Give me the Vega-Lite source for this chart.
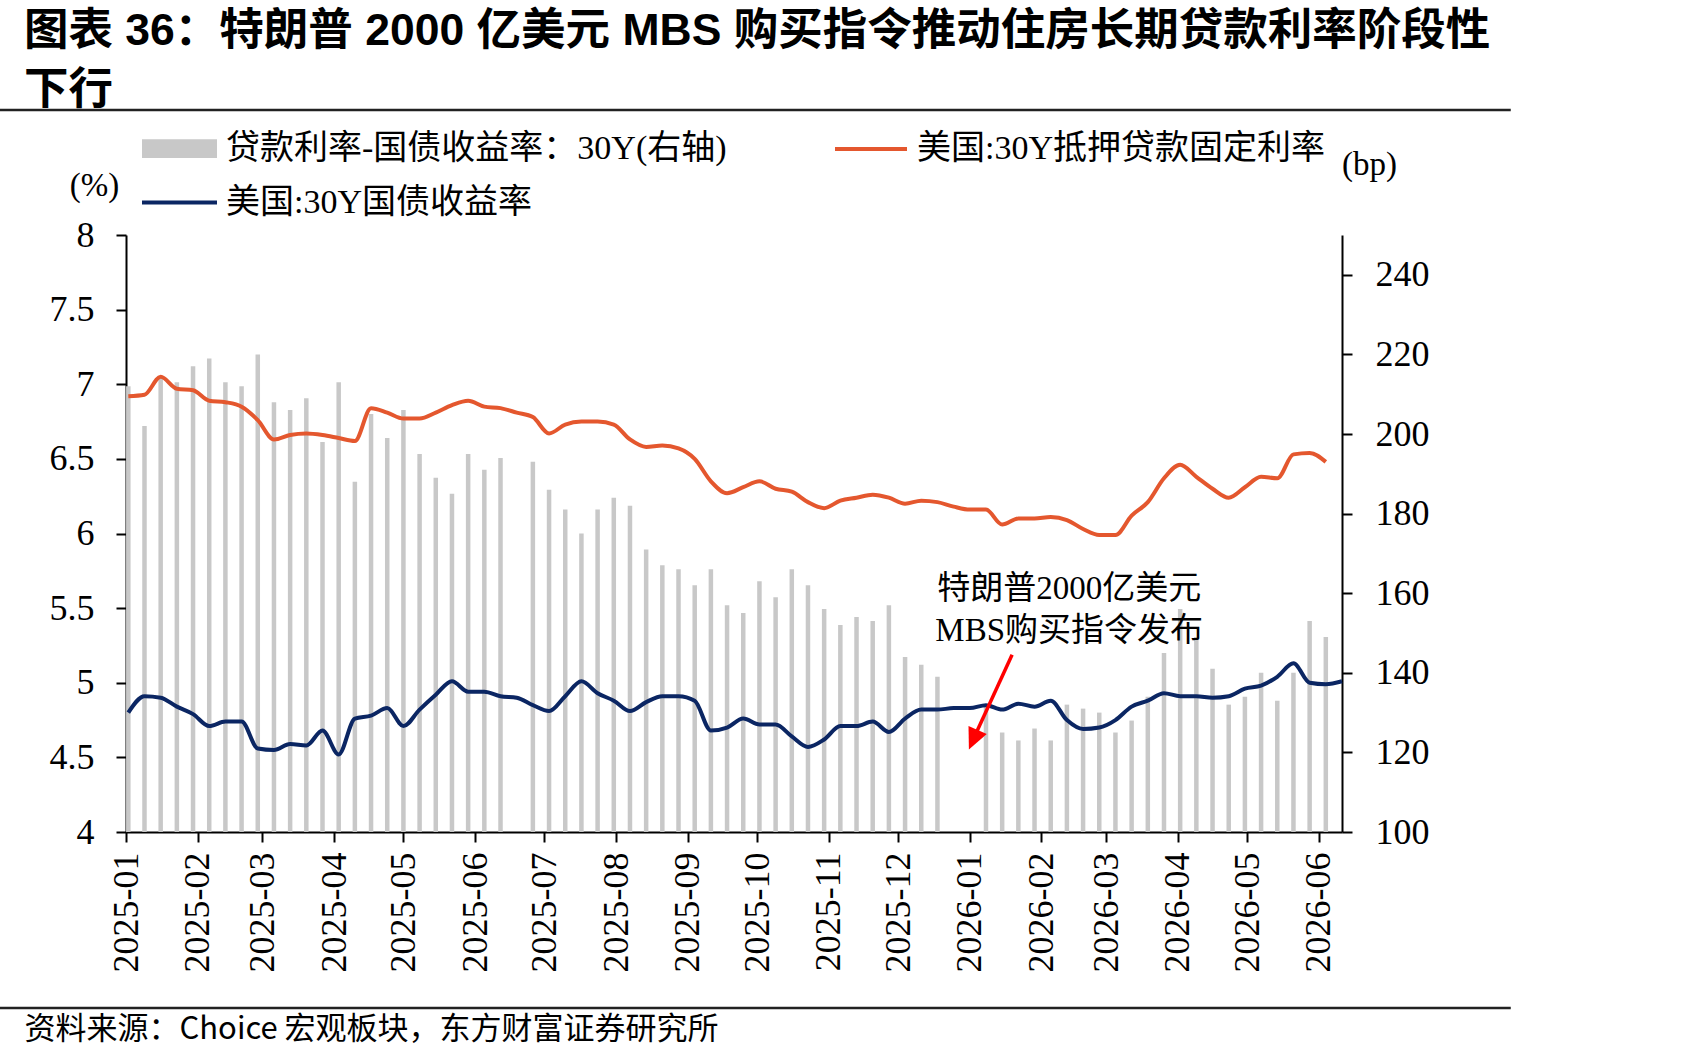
{
  "$schema": "https://vega.github.io/schema/vega-lite/v6.json",
  "width": 1216,
  "height": 597,
  "autosize": {"type": "none"},
  "padding": {"left": 126, "top": 235, "right": 359, "bottom": 229},
  "background": "white",
  "title": {
    "text": ["图表 36：特朗普 2000 亿美元 MBS 购买指令推动住房长期贷款利率阶段性", "下行"],
    "anchor": "start",
    "frame": "group",
    "dx": -102,
    "dy": 5,
    "offset": 0,
    "font": "Liberation Sans, Noto Sans CJK SC",
    "fontSize": 44.5,
    "fontWeight": "bold",
    "lineHeight": 59,
    "color": "#000000"
  },
  "datasets": {
    "weekly": [
      {"date": "2025-01-02", "mortgage": 6.92, "ust": 4.80, "spread": 212},
      {"date": "2025-01-09", "mortgage": 6.93, "ust": 4.91, "spread": 202},
      {"date": "2025-01-16", "mortgage": 7.05, "ust": 4.90, "spread": 214},
      {"date": "2025-01-23", "mortgage": 6.97, "ust": 4.84, "spread": 213},
      {"date": "2025-01-30", "mortgage": 6.96, "ust": 4.79, "spread": 217},
      {"date": "2025-02-06", "mortgage": 6.89, "ust": 4.71, "spread": 219},
      {"date": "2025-02-13", "mortgage": 6.88, "ust": 4.74, "spread": 213},
      {"date": "2025-02-20", "mortgage": 6.85, "ust": 4.74, "spread": 212},
      {"date": "2025-02-27", "mortgage": 6.76, "ust": 4.56, "spread": 220},
      {"date": "2025-03-06", "mortgage": 6.63, "ust": 4.55, "spread": 208},
      {"date": "2025-03-13", "mortgage": 6.66, "ust": 4.59, "spread": 206},
      {"date": "2025-03-20", "mortgage": 6.67, "ust": 4.58, "spread": 209},
      {"date": "2025-03-27", "mortgage": 6.66, "ust": 4.68, "spread": 198},
      {"date": "2025-04-03", "mortgage": 6.64, "ust": 4.52, "spread": 213},
      {"date": "2025-04-10", "mortgage": 6.62, "ust": 4.76, "spread": 188},
      {"date": "2025-04-17", "mortgage": 6.84, "ust": 4.78, "spread": 205},
      {"date": "2025-04-24", "mortgage": 6.81, "ust": 4.83, "spread": 199},
      {"date": "2025-05-01", "mortgage": 6.77, "ust": 4.71, "spread": 206},
      {"date": "2025-05-08", "mortgage": 6.77, "ust": 4.82, "spread": 195},
      {"date": "2025-05-15", "mortgage": 6.81, "ust": 4.92, "spread": 189},
      {"date": "2025-05-22", "mortgage": 6.86, "ust": 5.01, "spread": 185},
      {"date": "2025-05-29", "mortgage": 6.89, "ust": 4.94, "spread": 195},
      {"date": "2025-06-05", "mortgage": 6.85, "ust": 4.94, "spread": 191},
      {"date": "2025-06-12", "mortgage": 6.84, "ust": 4.91, "spread": 194},
      {"date": "2025-06-19", "mortgage": 6.81, "ust": 4.90, "spread": null},
      {"date": "2025-06-26", "mortgage": 6.78, "ust": 4.85, "spread": 193},
      {"date": "2025-07-03", "mortgage": 6.67, "ust": 4.81, "spread": 186},
      {"date": "2025-07-10", "mortgage": 6.73, "ust": 4.91, "spread": 181},
      {"date": "2025-07-17", "mortgage": 6.75, "ust": 5.01, "spread": 175},
      {"date": "2025-07-24", "mortgage": 6.75, "ust": 4.93, "spread": 181},
      {"date": "2025-07-31", "mortgage": 6.73, "ust": 4.88, "spread": 184},
      {"date": "2025-08-07", "mortgage": 6.63, "ust": 4.81, "spread": 182},
      {"date": "2025-08-14", "mortgage": 6.58, "ust": 4.87, "spread": 171},
      {"date": "2025-08-21", "mortgage": 6.59, "ust": 4.91, "spread": 167},
      {"date": "2025-08-28", "mortgage": 6.57, "ust": 4.91, "spread": 166},
      {"date": "2025-09-04", "mortgage": 6.50, "ust": 4.88, "spread": 162},
      {"date": "2025-09-11", "mortgage": 6.35, "ust": 4.68, "spread": 166},
      {"date": "2025-09-18", "mortgage": 6.27, "ust": 4.70, "spread": 157},
      {"date": "2025-09-25", "mortgage": 6.31, "ust": 4.76, "spread": 155},
      {"date": "2025-10-02", "mortgage": 6.35, "ust": 4.72, "spread": 163},
      {"date": "2025-10-09", "mortgage": 6.30, "ust": 4.72, "spread": 159},
      {"date": "2025-10-16", "mortgage": 6.28, "ust": 4.64, "spread": 166},
      {"date": "2025-10-23", "mortgage": 6.21, "ust": 4.57, "spread": 162},
      {"date": "2025-10-30", "mortgage": 6.17, "ust": 4.62, "spread": 156},
      {"date": "2025-11-06", "mortgage": 6.22, "ust": 4.71, "spread": 152},
      {"date": "2025-11-13", "mortgage": 6.24, "ust": 4.71, "spread": 154},
      {"date": "2025-11-20", "mortgage": 6.26, "ust": 4.74, "spread": 153},
      {"date": "2025-11-27", "mortgage": 6.24, "ust": 4.67, "spread": 157},
      {"date": "2025-12-04", "mortgage": 6.20, "ust": 4.76, "spread": 144},
      {"date": "2025-12-11", "mortgage": 6.22, "ust": 4.82, "spread": 142},
      {"date": "2025-12-18", "mortgage": 6.21, "ust": 4.82, "spread": 139},
      {"date": "2025-12-25", "mortgage": 6.18, "ust": 4.83, "spread": null},
      {"date": "2026-01-01", "mortgage": 6.16, "ust": 4.83, "spread": null},
      {"date": "2026-01-08", "mortgage": 6.16, "ust": 4.85, "spread": 132},
      {"date": "2026-01-15", "mortgage": 6.06, "ust": 4.82, "spread": 125},
      {"date": "2026-01-22", "mortgage": 6.10, "ust": 4.86, "spread": 123},
      {"date": "2026-01-29", "mortgage": 6.10, "ust": 4.84, "spread": 126},
      {"date": "2026-02-05", "mortgage": 6.11, "ust": 4.88, "spread": 123},
      {"date": "2026-02-12", "mortgage": 6.09, "ust": 4.75, "spread": 132},
      {"date": "2026-02-19", "mortgage": 6.03, "ust": 4.69, "spread": 131},
      {"date": "2026-02-26", "mortgage": 5.99, "ust": 4.70, "spread": 130},
      {"date": "2026-03-05", "mortgage": 5.99, "ust": 4.75, "spread": 125},
      {"date": "2026-03-12", "mortgage": 6.12, "ust": 4.84, "spread": 128},
      {"date": "2026-03-19", "mortgage": 6.21, "ust": 4.88, "spread": 134},
      {"date": "2026-03-26", "mortgage": 6.37, "ust": 4.93, "spread": 145},
      {"date": "2026-04-02", "mortgage": 6.46, "ust": 4.91, "spread": 156},
      {"date": "2026-04-09", "mortgage": 6.38, "ust": 4.91, "spread": 149},
      {"date": "2026-04-16", "mortgage": 6.30, "ust": 4.90, "spread": 141},
      {"date": "2026-04-23", "mortgage": 6.24, "ust": 4.91, "spread": 132},
      {"date": "2026-04-30", "mortgage": 6.31, "ust": 4.96, "spread": 134},
      {"date": "2026-05-07", "mortgage": 6.38, "ust": 4.98, "spread": 140},
      {"date": "2026-05-14", "mortgage": 6.37, "ust": 5.04, "spread": 133},
      {"date": "2026-05-21", "mortgage": 6.53, "ust": 5.13, "spread": 140},
      {"date": "2026-05-28", "mortgage": 6.54, "ust": 5.00, "spread": 153},
      {"date": "2026-06-04", "mortgage": 6.48, "ust": 4.99, "spread": 149},
      {"date": "2026-06-11", "mortgage": null, "ust": 5.01, "spread": null}
    ],
    "notes": [
      {"d": "2026-02-13T00:00:00Z", "v": 5.628, "t": "特朗普2000亿美元"},
      {"d": "2026-02-13T00:00:00Z", "v": 5.347, "t": "MBS购买指令发布"}
    ],
    "arrow": [
      {"xs": "2026-01-19T07:00:00Z", "ys": 5.187, "xe": "2026-01-03T05:00:00Z", "ye": 4.645, "xh": "2026-01-02T12:00:00Z", "yh": 4.618}
    ],
    "frame": [
      {"x1": "2024-11-07T12:00:00Z", "x2": "2026-08-23T00:00:00Z", "y": 8.8375},
      {"x1": "2024-11-07T12:00:00Z", "x2": "2026-08-23T00:00:00Z", "y": 2.8208}
    ]
  },
  "layer": [
    {
      "data": {"name": "weekly"},
      "mark": {"type": "bar", "size": 4.5, "invalid": "filter"},
      "encoding": {
        "x": {
          "field": "date",
          "type": "temporal",
          "scale": {
            "type": "utc",
            "nice": false,
            "padding": 0,
            "domain": [
              {"year": 2025, "month": 1, "date": 1, "utc": true},
              {"year": 2026, "month": 6, "date": 11, "utc": true}
            ]
          },
          "axis": {
            "orient": "bottom",
            "title": "资料来源：Choice 宏观板块，东方财富证券研究所",
            "titleFont": "Noto Sans CJK SC",
            "titleFontSize": 31,
            "titleFontWeight": "normal",
            "titleAlign": "left",
            "titleAnchor": "start",
            "titleBaseline": "middle",
            "titleX": -102,
            "titleY": 197,
            "format": "%Y-%m",
            "labelAngle": -90,
            "labelPadding": 10,
            "labelFont": "Liberation Serif",
            "labelFontSize": 36,
            "labelOverlap": false,
            "values": [
              {"year": 2025, "month": 1, "date": 1, "utc": true},
              {"year": 2025, "month": 2, "date": 1, "utc": true},
              {"year": 2025, "month": 3, "date": 1, "utc": true},
              {"year": 2025, "month": 4, "date": 1, "utc": true},
              {"year": 2025, "month": 5, "date": 1, "utc": true},
              {"year": 2025, "month": 6, "date": 1, "utc": true},
              {"year": 2025, "month": 7, "date": 1, "utc": true},
              {"year": 2025, "month": 8, "date": 1, "utc": true},
              {"year": 2025, "month": 9, "date": 1, "utc": true},
              {"year": 2025, "month": 10, "date": 1, "utc": true},
              {"year": 2025, "month": 11, "date": 1, "utc": true},
              {"year": 2025, "month": 12, "date": 1, "utc": true},
              {"year": 2026, "month": 1, "date": 1, "utc": true},
              {"year": 2026, "month": 2, "date": 1, "utc": true},
              {"year": 2026, "month": 3, "date": 1, "utc": true},
              {"year": 2026, "month": 4, "date": 1, "utc": true},
              {"year": 2026, "month": 5, "date": 1, "utc": true},
              {"year": 2026, "month": 6, "date": 1, "utc": true}
            ]
          }
        },
        "y": {
          "field": "spread",
          "type": "quantitative",
          "scale": {"domain": [100, 250], "zero": false, "nice": false},
          "axis": {
            "orient": "right",
            "values": [100, 120, 140, 160, 180, 200, 220, 240],
            "title": "(bp)",
            "titleAngle": 0,
            "titleAlign": "center",
            "titleBaseline": "middle",
            "titleX": 27,
            "titleY": -71,
            "labelPadding": 23
          }
        },
        "y2": {"datum": 100},
        "fill": {
          "datum": "贷款利率-国债收益率：30Y(右轴)",
          "type": "nominal",
          "scale": {"range": ["#C8C8C8"]},
          "legend": {
            "orient": "none",
            "legendX": 16,
            "legendY": -124,
            "title": null,
            "symbolType": "M-1,-0.25H1V0.25H-1Z",
            "symbolSize": 5625,
            "symbolStrokeWidth": 0,
            "labelOffset": 9
          }
        }
      }
    },
    {
      "data": {"name": "weekly"},
      "mark": {"type": "line", "interpolate": "monotone", "strokeWidth": 4, "invalid": "filter"},
      "encoding": {
        "x": {"field": "date", "type": "temporal"},
        "y": {
          "field": "mortgage",
          "type": "quantitative",
          "scale": {"domain": [4, 8], "zero": false, "nice": false},
          "axis": {
            "orient": "left",
            "values": [4, 4.5, 5, 5.5, 6, 6.5, 7, 7.5, 8],
            "format": ".1~f",
            "title": "(%)",
            "titleAngle": 0,
            "titleAlign": "center",
            "titleBaseline": "middle",
            "titleX": -32,
            "titleY": -50,
            "labelPadding": 22
          }
        },
        "stroke": {
          "datum": "美国:30Y抵押贷款固定利率",
          "type": "nominal",
          "scale": {"range": ["#E4572E"]},
          "legend": {
            "orient": "none",
            "legendX": 707,
            "legendY": -124,
            "title": null,
            "symbolType": "stroke",
            "symbolSize": 5184,
            "symbolStrokeWidth": 4,
            "labelOffset": 8
          }
        }
      }
    },
    {
      "data": {"name": "weekly"},
      "mark": {"type": "line", "interpolate": "monotone", "strokeWidth": 4, "invalid": "filter"},
      "encoding": {
        "x": {"field": "date", "type": "temporal"},
        "y": {
          "field": "ust",
          "type": "quantitative",
          "scale": {"domain": [4, 8], "zero": false, "nice": false},
          "axis": null
        },
        "stroke": {
          "datum": "美国:30Y国债收益率",
          "type": "nominal",
          "scale": {"range": ["#0B2663"]},
          "legend": {
            "orient": "none",
            "legendX": 14,
            "legendY": -72,
            "title": null,
            "symbolType": "stroke",
            "symbolSize": 5625,
            "symbolStrokeWidth": 4,
            "labelOffset": 7
          }
        }
      }
    },
    {
      "data": {"name": "notes"},
      "mark": {"type": "text", "font": "Liberation Serif, Noto Sans CJK SC", "fontSize": 33, "align": "center", "baseline": "middle", "color": "#000000"},
      "encoding": {
        "x": {"field": "d", "type": "temporal"},
        "y": {"field": "v", "type": "quantitative", "scale": {"domain": [4, 8], "zero": false, "nice": false}, "axis": null},
        "text": {"field": "t"}
      }
    },
    {
      "data": {"name": "arrow"},
      "mark": {"type": "rule", "color": "#FF0000", "strokeWidth": 3.5},
      "encoding": {
        "x": {"field": "xs", "type": "temporal"},
        "x2": {"field": "xe"},
        "y": {"field": "ys", "type": "quantitative", "scale": {"domain": [4, 8], "zero": false, "nice": false}, "axis": null},
        "y2": {"field": "ye"}
      }
    },
    {
      "data": {"name": "arrow"},
      "mark": {"type": "point", "shape": "M0,1L-0.93,-1L0.93,-1Z", "size": 462, "angle": 24, "filled": true, "color": "#FF0000", "opacity": 1},
      "encoding": {
        "x": {"field": "xh", "type": "temporal"},
        "y": {"field": "yh", "type": "quantitative", "scale": {"domain": [4, 8], "zero": false, "nice": false}, "axis": null}
      }
    },
    {
      "data": {"name": "frame"},
      "mark": {"type": "rule", "color": "#222222", "strokeWidth": 2.5},
      "encoding": {
        "x": {"field": "x1", "type": "temporal"},
        "x2": {"field": "x2"},
        "y": {"field": "y", "type": "quantitative", "scale": {"domain": [4, 8], "zero": false, "nice": false}, "axis": null}
      }
    }
  ],
  "resolve": {
    "scale": {"y": "independent", "stroke": "independent"},
    "legend": {"stroke": "independent"}
  },
  "config": {
    "view": {"stroke": null},
    "axis": {
      "grid": false,
      "domainColor": "#000000",
      "domainWidth": 2,
      "tickColor": "#000000",
      "tickWidth": 2,
      "tickSize": 10,
      "labelFont": "Liberation Serif",
      "labelFontSize": 36,
      "labelColor": "#000000",
      "titleFont": "Liberation Serif",
      "titleFontSize": 33,
      "titleFontWeight": "normal",
      "titleColor": "#000000"
    },
    "legend": {
      "labelFont": "Liberation Serif, Noto Sans CJK SC",
      "labelFontSize": 34,
      "labelColor": "#000000",
      "labelLimit": 900,
      "padding": 0
    }
  }
}
